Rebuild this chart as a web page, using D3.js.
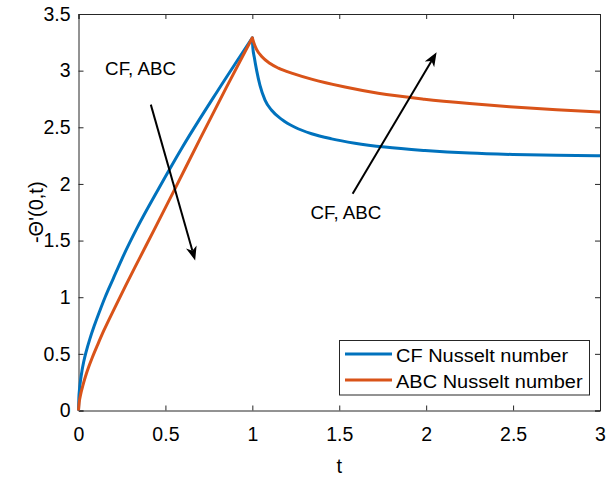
<!DOCTYPE html>
<html>
<head>
<meta charset="utf-8">
<script src="https://cdn.jsdelivr.net/npm/d3@7"></script>
<style>
  html, body { margin: 0; padding: 0; background: #fff; }
  svg { display: block; }
  text { font-family: "Liberation Sans", Arial, Helvetica, sans-serif; fill: #000; }
</style>
</head>
<body>
<svg id="chart" width="613" height="480"></svg>
<script>
// Nusselt number -Θ'(0,t): heating phase (t ≤ 1) and relaxation phase (t ≥ 1)
const cfRiseT  = [0, 0.002, 0.006, 0.012, 0.02, 0.03, 0.045, 0.065, 0.09, 0.12, 0.153, 0.2, 0.249, 0.335, 0.46, 0.6, 0.8, 1.0];
const cfRiseV  = [0, 0.11, 0.19, 0.27, 0.35, 0.43, 0.525, 0.63, 0.745, 0.87, 1.0, 1.165, 1.335, 1.605, 1.955, 2.33, 2.82, 3.29];
const cfFallT  = [1.0, 1.003, 1.011, 1.025, 1.044, 1.073, 1.111, 1.169, 1.245, 1.341, 1.456, 1.59, 1.763, 1.993, 2.25, 2.5, 2.75, 3.0];
const cfFallV  = [3.29, 3.2, 3.12, 3.0, 2.87, 2.74, 2.65, 2.57, 2.5, 2.443, 2.398, 2.36, 2.325, 2.295, 2.272, 2.26, 2.253, 2.248];

const abcRiseT = [0, 0.004, 0.012, 0.025, 0.04, 0.06, 0.08, 0.11, 0.144, 0.2, 0.272, 0.345, 0.435, 0.546, 0.7, 0.85, 1.0];
const abcRiseV = [0, 0.07, 0.14, 0.22, 0.30, 0.39, 0.47, 0.58, 0.70, 0.88, 1.105, 1.325, 1.595, 1.93, 2.40, 2.85, 3.29];
const abcFallT = [1.0, 1.01, 1.025, 1.054, 1.1, 1.15, 1.24, 1.34, 1.533, 1.724, 1.99, 2.25, 2.48, 2.75, 3.0];
const abcFallV = [3.29, 3.24, 3.185, 3.125, 3.065, 3.022, 2.972, 2.925, 2.855, 2.80, 2.748, 2.71, 2.682, 2.655, 2.635];

const xTicks = [0, 0.5, 1, 1.5, 2, 2.5, 3];
const yTicks = [0, 0.5, 1, 1.5, 2, 2.5, 3, 3.5];
const seriesNames  = ["CF Nusselt number", "ABC Nusselt number"];
const seriesColors = ["#0072BD", "#D95319"];

// annotation arrows: [tailT, tailV, headT, headV]
const arrowDown = [0.416, 2.70, 0.671, 1.325];
const arrowUp   = [1.577, 1.914, 2.06, 3.162];
const noteText  = "CF, ABC";
// annotation label anchors: [t, v] of the text's left baseline
const noteDown  = [0.153, 2.96];
const noteUp    = [1.335, 1.693];

const svg = d3.select("#chart");
const W = 613, H = 480;
const box = { left: 78.5, right: 600, top: 14, bottom: 410.5 };

const x = d3.scaleLinear().domain([0, 3]).range([box.left, box.right]);
const y = d3.scaleLinear().domain([0, 3.5]).range([box.bottom, box.top]);

svg.append("rect").attr("width", W).attr("height", H).attr("fill", "#fff");

const axisColor = "#262626";
const fontSize = 19.5;

// axes (inward ticks, with box)
const gx = svg.append("g").attr("transform", `translate(0,${box.bottom})`)
  .call(d3.axisBottom(x).tickValues(xTicks).tickSize(-5).tickPadding(17).tickFormat(d3.format("~g")));
const gy = svg.append("g").attr("transform", `translate(${box.left},0)`)
  .call(d3.axisLeft(y).tickValues(yTicks).tickSize(-5).tickPadding(8).tickFormat(d3.format("~g")));
const gxt = svg.append("g").attr("transform", `translate(0,${box.top})`)
  .call(d3.axisTop(x).tickValues(xTicks).tickSize(-5).tickFormat(""));
const gyr = svg.append("g").attr("transform", `translate(${box.right},0)`)
  .call(d3.axisRight(y).tickValues(yTicks).tickSize(-5).tickFormat(""));

[gx, gy, gxt, gyr].forEach(g => {
  g.select(".domain").attr("stroke", axisColor).attr("stroke-width", 1);
  g.selectAll(".tick line").attr("stroke", axisColor).attr("stroke-width", 1);
  g.selectAll(".tick text").attr("font-size", fontSize).attr("fill", "#000")
    .style("font-family", '"Liberation Sans", Arial, sans-serif');
});

// text with a slight horizontal stretch, anchored at its baseline
function label(px, py, str, size, sx, anchor) {
  return svg.append("text")
    .attr("transform", `translate(${px},${py}) scale(${sx},1)`)
    .attr("text-anchor", anchor || "start")
    .attr("font-size", size).text(str);
}

// axis titles
label(x(1.5), 473, "t", 20, 1, "middle");
svg.append("text").attr("transform", `translate(43,${(box.top + box.bottom) / 2}) rotate(-90)`)
  .attr("text-anchor", "middle").attr("font-size", 20).text("-Θ'(0,t)");

// curves: monotone on each phase, joined at the peak as a single path
const gen = d3.line().x(d => x(d[0])).y(d => y(d[1])).curve(d3.curveMonotoneX);
function curvePath(rt, rv, ft, fv) {
  const a = gen(rt.map((t, i) => [t, rv[i]]));
  const b = gen(ft.map((t, i) => [t, fv[i]]));
  return a + b.replace(/^M[^A-Za-z]*/, "");
}
const plot = svg.append("g");
const paths = [
  curvePath(cfRiseT, cfRiseV, cfFallT, cfFallV),
  curvePath(abcRiseT, abcRiseV, abcFallT, abcFallV)
];
paths.forEach((d, i) => {
  plot.append("path").attr("d", d).attr("fill", "none")
    .attr("stroke", seriesColors[i]).attr("stroke-width", 3)
    .attr("stroke-linejoin", "round").attr("stroke-linecap", "butt");
});

// annotation arrows
function drawArrow(a) {
  const x0 = x(a[0]), y0 = y(a[1]), x1 = x(a[2]), y1 = y(a[3]);
  const ang = Math.atan2(y1 - y0, x1 - x0);
  const len = 14, half = 5.5, back = 10;
  const c = Math.cos(ang), s = Math.sin(ang);
  const bx = x1 - back * c, by = y1 - back * s;
  svg.append("line").attr("x1", x0).attr("y1", y0).attr("x2", bx).attr("y2", by)
    .attr("stroke", "#000").attr("stroke-width", 2);
  const p = [
    [x1, y1],
    [x1 - len * c + half * s, y1 - len * s - half * c],
    [bx, by],
    [x1 - len * c - half * s, y1 - len * s + half * c]
  ];
  svg.append("path").attr("d", "M" + p.map(q => q.join(",")).join("L") + "Z").attr("fill", "#000");
}
drawArrow(arrowDown);
drawArrow(arrowUp);

label(x(noteDown[0]), y(noteDown[1]), noteText, 17.7, 1.06);
label(x(noteUp[0]), y(noteUp[1]), noteText, 17.7, 1.06);

// legend
const lg = svg.append("g");
lg.append("rect").attr("x", 339.5).attr("y", 340.5).attr("width", 250).attr("height", 54.5)
  .attr("fill", "#fff").attr("stroke", axisColor).attr("stroke-width", 1);
seriesNames.forEach((name, i) => {
  const yy = 354 + i * 26;
  lg.append("line").attr("x1", 345).attr("x2", 392).attr("y1", yy).attr("y2", yy)
    .attr("stroke", seriesColors[i]).attr("stroke-width", 3);
  label(396, yy + 7.5, name, 18.6, 1.075);
});
</script>
</body>
</html>
